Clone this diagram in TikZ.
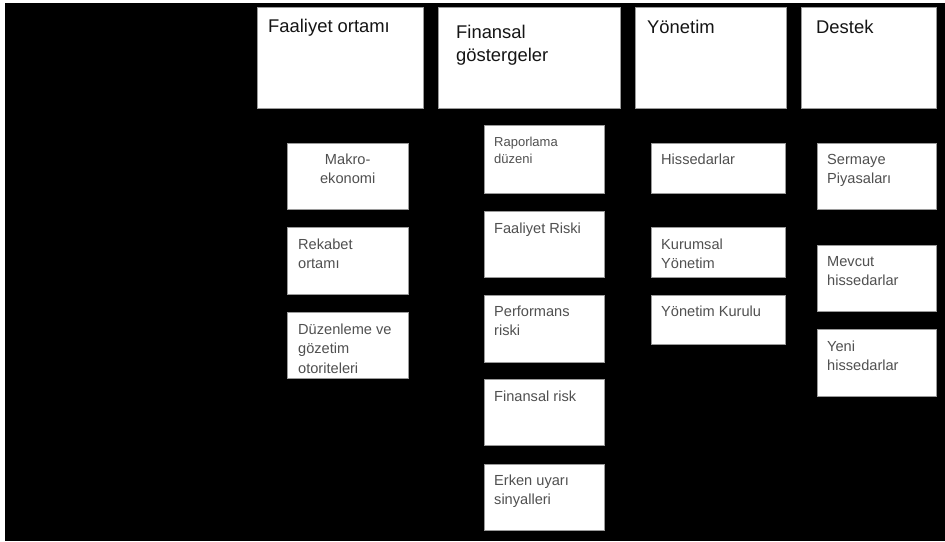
\documentclass[tikz,border=0pt]{standalone}
\usepackage{fontspec}
\setmainfont{Liberation Sans}
\definecolor{boxline}{HTML}{9A9A9A}
\definecolor{subtext}{HTML}{505050}
\definecolor{toptext}{HTML}{151515}
\newcommand{\lines}[1]{\parbox[t]{5cm}{\raggedright #1}}
\newcommand{\clines}[1]{\parbox[t]{121pt}{\centering #1}}
\tikzset{
  panel/.style={draw=boxline, line width=1pt, fill=white, inner sep=0pt, anchor=north west},
  toplbl/.style={inner sep=0pt, anchor=base west, text=toptext, font=\fontsize{18.4}{23}\selectfont},
  sublbl/.style={inner sep=0pt, anchor=base west, text=subtext, font=\fontsize{14.6}{19.5}\selectfont},
  smalllbl/.style={inner sep=0pt, anchor=base west, text=subtext, font=\fontsize{13}{17}\selectfont}
}
\begin{document}
\begin{tikzpicture}[x=1pt,y=-1pt]
\useasboundingbox (0,0) rectangle (945,541);
\fill[white] (0,0) rectangle (945,541);
\fill[black] (5,3) rectangle (945,541);
% top panels
\node[panel, minimum width=166pt, minimum height=101pt] (f1) at (257,7) {};
\node[panel, minimum width=182pt, minimum height=101pt] (f2) at (438,7) {};
\node[panel, minimum width=151pt, minimum height=101pt] (f3) at (635,7) {};
\node[panel, minimum width=135pt, minimum height=101pt] (f4) at (801,7) {};
\node[toplbl] (f1t) at (268,32.6) {Faaliyet ortamı};
\node[toplbl] (f2t) at (456,38) {\lines{Finansal\\göstergeler}};
\node[toplbl] (f3t) at (647,33.5) {Yönetim};
\node[toplbl] (f4t) at (816,33.5) {Destek};
% column 1
\node[panel, minimum width=121pt, minimum height=66pt] (a1) at (287,143) {};
\node[panel, minimum width=121pt, minimum height=67pt] (a2) at (287,227) {};
\node[panel, minimum width=121pt, minimum height=66pt] (a3) at (287,312) {};
\node[sublbl] (a1t) at (287,164) {\clines{Makro-\\ekonomi}};
\node[sublbl] (a2t) at (298,249) {\lines{Rekabet\\ortamı}};
\node[sublbl] (a3t) at (298,334) {\lines{Düzenleme ve\\gözetim\\otoriteleri}};
% column 2
\node[panel, minimum width=120pt, minimum height=68pt] (b1) at (484,125) {};
\node[panel, minimum width=120pt, minimum height=66pt] (b2) at (484,211) {};
\node[panel, minimum width=120pt, minimum height=67pt] (b3) at (484,295) {};
\node[panel, minimum width=120pt, minimum height=66pt] (b4) at (484,379) {};
\node[panel, minimum width=120pt, minimum height=66pt] (b5) at (484,464) {};
\node[smalllbl] (b1t) at (494,146) {\lines{Raporlama\\düzeni}};
\node[sublbl] (b2t) at (494,233) {Faaliyet Riski};
\node[sublbl] (b3t) at (494,316) {\lines{Performans\\riski}};
\node[sublbl] (b4t) at (494,401) {Finansal risk};
\node[sublbl] (b5t) at (494,485) {\lines{Erken uyarı\\sinyalleri}};
% column 3
\node[panel, minimum width=134pt, minimum height=50pt] (c1) at (651,143) {};
\node[panel, minimum width=134pt, minimum height=50pt] (c2) at (651,227) {};
\node[panel, minimum width=134pt, minimum height=49pt] (c3) at (651,295) {};
\node[sublbl] (c1t) at (661,164) {Hissedarlar};
\node[sublbl] (c2t) at (661,249) {\lines{Kurumsal\\Yönetim}};
\node[sublbl] (c3t) at (661,316) {Yönetim Kurulu};
% column 4
\node[panel, minimum width=119pt, minimum height=66pt] (d1) at (817,143) {};
\node[panel, minimum width=119pt, minimum height=66pt] (d2) at (817,245) {};
\node[panel, minimum width=119pt, minimum height=67pt] (d3) at (817,329) {};
\node[sublbl] (d1t) at (827,164) {\lines{Sermaye\\Piyasaları}};
\node[sublbl] (d2t) at (827,266) {\lines{Mevcut\\hissedarlar}};
\node[sublbl] (d3t) at (827,351) {\lines{Yeni\\hissedarlar}};
\end{tikzpicture}
\end{document}
